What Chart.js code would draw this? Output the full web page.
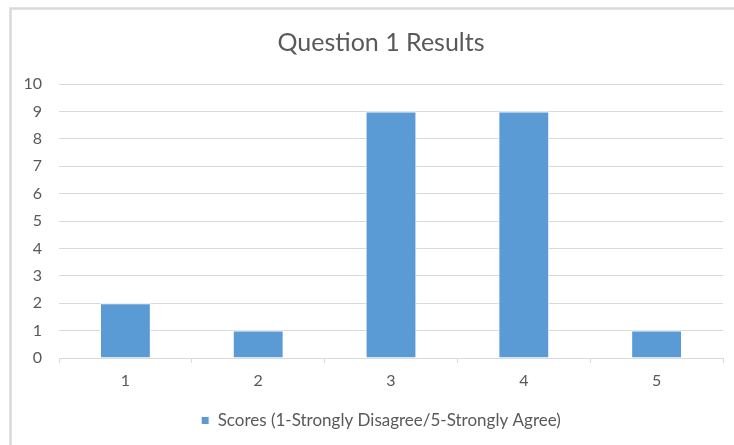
<!DOCTYPE html>
<html>
<head>
<meta charset="utf-8">
<script src="https://cdn.jsdelivr.net/npm/chart.js@4"></script>
<style>
  html, body { margin: 0; padding: 0; background: #fff; }
  #wrap { width: 734px; height: 445px; position: relative; overflow: hidden; }
</style>
</head>
<body>
<div id="wrap"><canvas id="resultsChart" width="734" height="445"></canvas></div>
<script>
const categories = ["1", "2", "3", "4", "5"];
const scores = [2, 1, 9, 9, 1];
const seriesLabel = "Scores (1-Strongly Disagree/5-Strongly Agree)";
const chartTitle = "Question 1 Results";

const textColor = "#595959";
const gridColor = "#d9d9d9";
const fontFamily = "Lato, 'Open Sans', sans-serif";

// light frame around the chart area, like an office chart object
const framePlugin = {
  id: "frame",
  beforeDraw(chart) {
    const c = chart.ctx;
    c.save();
    c.fillStyle = "#fff";
    c.fillRect(0, 0, chart.width, chart.height);
    c.strokeStyle = "#d9d9d9";
    c.lineWidth = 2.5;
    c.beginPath();
    c.moveTo(10.5, chart.height);
    c.lineTo(10.5, 8.5);
    c.lineTo(chart.width, 8.5);
    c.stroke();
    c.restore();
  }
};

var ctx = document.getElementById("resultsChart").getContext("2d");
var chart = new Chart(ctx, {
  type: "bar",
  data: {
    labels: categories,
    datasets: [
      {
        label: seriesLabel,
        data: scores,
        backgroundColor: "#5b9bd5",
        borderColor: "#ffffff",
        borderWidth: 1,
        barPercentage: 0.383,
        categoryPercentage: 1,
      },
    ],
  },
  plugins: [framePlugin],
  options: {
    responsive: false,
    animation: false,
    layout: {
      // the chart object runs past the right edge of the canvas
      padding: { left: 10, right: -18, top: 10, bottom: 6 },
    },
    scales: {
      x: {
        grid: {
          display: true,
          drawOnChartArea: false,
          drawTicks: true,
          tickLength: 5,
          color: gridColor,
          offset: true,
        },
        border: { display: true, color: gridColor, width: 1 },
        ticks: {
          color: textColor,
          padding: 8,
          font: { family: fontFamily, size: 16 },
        },
        afterFit: (scale) => {
          scale.height = 44;
        },
      },
      y: {
        min: 0,
        max: 10,
        grid: {
          color: gridColor,
          drawTicks: false,
        },
        border: { display: false },
        ticks: {
          stepSize: 1,
          color: textColor,
          padding: 17,
          font: { family: fontFamily, size: 16 },
        },
        afterFit: (scale) => {
          scale.width = 49;
        },
      },
      // empty spacer on the right side of the plot
      yRight: {
        position: "right",
        min: 0,
        max: 10,
        grid: { drawOnChartArea: false, drawTicks: false, display: false },
        border: { display: false },
        ticks: { display: false },
        afterFit: (scale) => {
          scale.width = 29;
        },
      },
    },
    plugins: {
      title: {
        display: true,
        text: chartTitle,
        color: textColor,
        font: { family: fontFamily, size: 25, weight: "normal" },
        padding: { top: 18, bottom: 26 },
      },
      legend: {
        position: "bottom",
        labels: {
          color: textColor,
          boxWidth: 8,
          boxHeight: 8,
          padding: 10,
          font: { family: fontFamily, size: 17 },
        },
      },
      tooltip: { enabled: false },
    },
  },
});
</script>
</body>
</html>
